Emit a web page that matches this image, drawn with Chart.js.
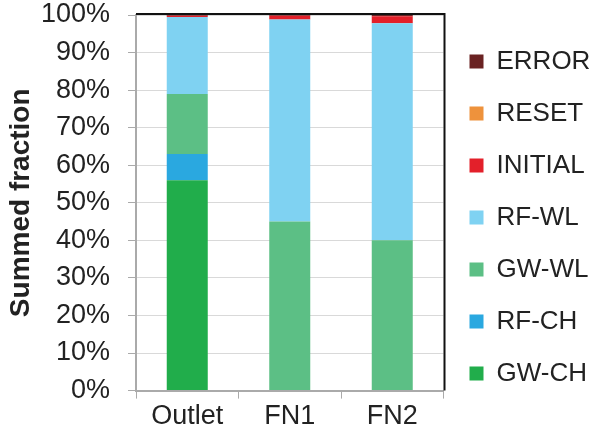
<!DOCTYPE html>
<html>
<head>
<meta charset="utf-8">
<script src="https://cdn.jsdelivr.net/npm/chart.js@4"></script>
<style>
  html, body { margin: 0; padding: 0; background: #fff; }
  #wrap { width: 594px; height: 437px; }
</style>
</head>
<body>
<div id="wrap"><canvas id="fracao"></canvas></div>
<script>
const categorias = ["Outlet", "FN1", "FN2"];
const gwCh = [56, 0, 0];
const rfCh = [7, 0, 0];
const gwWl = [16, 45, 40];
const rfWl = [20.5, 53.8, 57.8];
const initial = [0.3, 1.0, 1.9];
const reset = [0, 0, 0];
const error = [0.2, 0.2, 0.3];

Chart.defaults.font.family = "'Liberation Sans', Arial, sans-serif";
Chart.defaults.color = "#222";

// moldura superior e direita do gráfico
const moldura = {
  id: "moldura",
  afterDraw(chart) {
    const { ctx, chartArea: a } = chart;
    ctx.save();
    ctx.strokeStyle = "#111";
    ctx.lineWidth = 2;
    ctx.beginPath();
    ctx.moveTo(a.left, a.top - 1);
    ctx.lineTo(a.right + 1, a.top - 1);
    ctx.lineTo(a.right + 1, a.bottom);
    ctx.stroke();
    ctx.restore();
  },
};

const ctx = document.getElementById("fracao");
new Chart(ctx, {
  type: "bar",
  data: {
    labels: categorias,
    datasets: [
      { label: "GW-CH", data: gwCh, backgroundColor: "#21ad4b" },
      { label: "RF-CH", data: rfCh, backgroundColor: "#2aa8e0" },
      { label: "GW-WL", data: gwWl, backgroundColor: "#5cbf85" },
      { label: "RF-WL", data: rfWl, backgroundColor: "#7fd2f2" },
      { label: "INITIAL", data: initial, backgroundColor: "#e3202a" },
      { label: "RESET", data: reset, backgroundColor: "#ee923c" },
      { label: "ERROR", data: error, backgroundColor: "#6a2222" },
    ],
  },
  options: {
    responsive: true,
    maintainAspectRatio: false,
    animation: false,
    layout: { padding: { left: 4, top: 0, right: 4, bottom: 2 } },
    datasets: { bar: { categoryPercentage: 1, barPercentage: 0.4 } },
    plugins: {
      tooltip: { enabled: false },
      legend: {
        position: "right",
        reverse: true,
        labels: {
          boxWidth: 14,
          boxHeight: 14,
          padding: 26,
          font: { size: 26 },
          color: "#222",
        },
      },
    },
    scales: {
      x: {
        stacked: true,
        grid: { offset: true, drawOnChartArea: false, tickLength: 8, color: "#aaa" },
        border: { color: "#aaa", width: 2 },
        ticks: { font: { size: 27 }, padding: 2, color: "#222" },
      },
      y: {
        stacked: true,
        min: 0,
        max: 100,
        afterFit(scale) {
          scale.width = 132;
          scale.paddingTop = 15;
          scale.paddingBottom = 0;
        },
        grid: { color: "#d9d9d9", tickLength: 8, tickColor: "#aaa" },
        border: { color: "#aaa", width: 2 },
        ticks: {
          stepSize: 10,
          autoSkip: false,
          font: { size: 27 },
          padding: 18,
          color: "#222",
          callback: (v) => v + "%",
        },
        title: {
          display: true,
          text: "Summed fraction",
          font: { size: 28, weight: "bold" },
          color: "#222",
          padding: 0,
        },
      },
    },
  },
  plugins: [moldura],
});
</script>
</body>
</html>
